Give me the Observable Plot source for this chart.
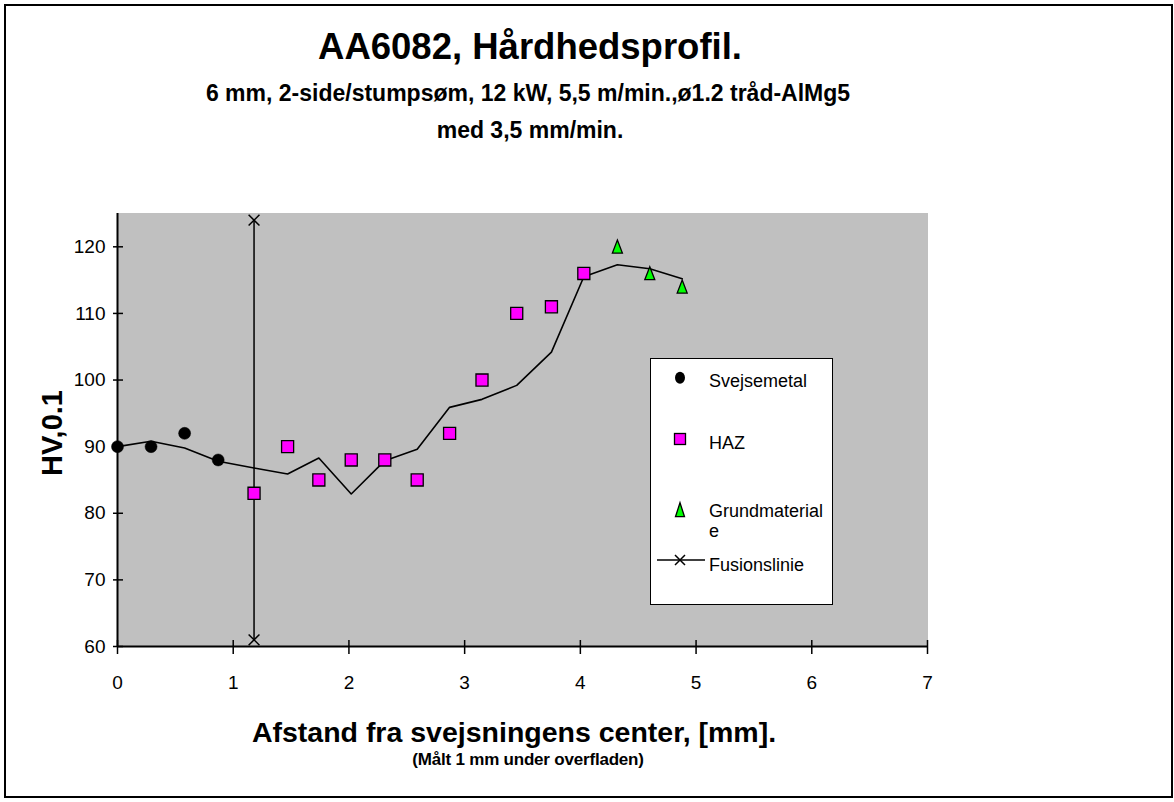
<!DOCTYPE html>
<html>
<head>
<meta charset="utf-8">
<script src="https://cdn.jsdelivr.net/npm/d3@7"></script>
<script src="https://cdn.jsdelivr.net/npm/@observablehq/plot@0.6"></script>
<style>
  body { margin: 0; background: #fff; font-family: "Liberation Sans", Arial, sans-serif; color: #000; }
  #wrap { position: relative; width: 1174px; height: 802px; overflow: hidden; }
  .t { position: absolute; white-space: nowrap; line-height: 1; color: #000; }
  .c { transform: translateX(-50%); font-weight: bold; }
  .lg { position: absolute; white-space: nowrap; line-height: 1; font-size: 18px; color: #000; }
</style>
</head>
<body>
<div id="wrap">
  <div id="chart" style="position:absolute;left:0;top:0;"></div>
  <div style="position:absolute;left:4px;top:4px;width:1169px;height:794px;box-sizing:border-box;border:2px solid #000;"></div>

  <div class="t c" style="left:530px;top:29px;font-size:36.5px;">AA6082, Hårdhedsprofil.</div>
  <div class="t c" style="left:528px;top:82px;font-size:23px;">6 mm, 2-side/stumpsøm, 12 kW, 5,5 m/min.,ø1.2 tråd-AlMg5</div>
  <div class="t c" style="left:530px;top:119px;font-size:23px;">med 3,5 mm/min.</div>
  <div class="t c" style="left:514px;top:718px;font-size:28.5px;">Afstand fra svejsningens center, [mm].</div>
  <div class="t c" style="left:528px;top:751px;font-size:17px;letter-spacing:-0.2px;">(Målt 1 mm under overfladen)</div>
  <div class="t" style="left:52px;top:433px;font-size:29px;font-weight:bold;transform:translate(-50%,-50%) rotate(-90deg);">HV,0.1</div>

  <div style="position:absolute;left:650px;top:358px;width:183px;height:247px;box-sizing:border-box;border:1.5px solid #000;background:#fff;"></div>
  <svg style="position:absolute;left:650px;top:358px;" width="183" height="247" viewBox="650 358 183 247">
    <ellipse cx="680" cy="377.7" rx="5" ry="6" fill="#000"/>
    <rect x="674.5" y="433.5" width="11" height="11" fill="#ff00ff" stroke="#000" stroke-width="1.3"/>
    <path d="M680,502.7 L684.5,516.7 L675.5,516.7 Z" fill="#00ff00" stroke="#000" stroke-width="1.3"/>
    <line x1="657" y1="560" x2="705" y2="560" stroke="#000" stroke-width="1.5"/>
    <path d="M675,555 L685,565 M685,555 L675,565" stroke="#000" stroke-width="1.5"/>
  </svg>
  <div class="lg" style="left:709px;top:371.5px;">Svejsemetal</div>
  <div class="lg" style="left:709px;top:434px;">HAZ</div>
  <div class="lg" style="left:709px;top:502px;">Grundmaterial</div>
  <div class="lg" style="left:709px;top:522px;">e</div>
  <div class="lg" style="left:709px;top:555.5px;">Fusionslinie</div>
</div>
<script>
// Data
const svejseX = [0, 0.29, 0.58, 0.87];
const svejseY = [90, 90, 92, 88];
const hazX = [1.18, 1.47, 1.74, 2.02, 2.31, 2.59, 2.87, 3.15, 3.45, 3.75, 4.03];
const hazY = [83, 90, 85, 88, 88, 85, 92, 100, 110, 111, 116];
const grundX = [4.32, 4.6, 4.88];
const grundY = [120, 116, 114];
const trendX = [0, 0.29, 0.58, 0.87, 1.18, 1.47, 1.74, 2.02, 2.31, 2.59, 2.87, 3.15, 3.45, 3.75, 4.03, 4.32, 4.6, 4.88];
const trendY = [90, 90.8, 89.8, 87.8, 86.8, 85.9, 88.3, 82.9, 87.9, 89.6, 95.9, 97.1, 99.2, 104.2, 115.5, 117.3, 116.7, 115.2];
const fusionX = [1.18, 1.18];
const fusionY = [61, 124];
const xTicks = [0, 1, 2, 3, 4, 5, 6, 7];
const yTicks = [60, 70, 80, 90, 100, 110, 120];

const rows = (xs, ys) => xs.map((x, i) => ({x, y: ys[i]}));
const tallTriangle = {
  draw(ctx, size) {
    const r = Math.sqrt(size / Math.PI);
    ctx.moveTo(0, -1.35 * r);
    ctx.lineTo(r, 1.25 * r);
    ctx.lineTo(-r, 1.25 * r);
    ctx.closePath();
  }
};

const chart = Plot.plot({
  width: 1174,
  height: 802,
  marginLeft: 117,
  marginRight: 247,
  marginTop: 213,
  marginBottom: 156,
  style: {background: "transparent", fontFamily: '"Liberation Sans", Arial, sans-serif', fontSize: "19px", color: "#000", overflow: "visible"},
  x: {domain: [0, 7]},
  y: {domain: [60, 125]},
  marks: [
    Plot.frame({fill: "#c0c0c0", stroke: "#c0c0c0"}),
    Plot.ruleX([0], {stroke: "#000", strokeWidth: 2}),
    Plot.ruleY([60], {stroke: "#000", strokeWidth: 2}),
    Plot.axisY({ticks: yTicks, tickSize: 10, dx: 6, tickFormat: () => "", label: null, strokeWidth: 1.5}),
    Plot.axisY({ticks: yTicks, tickSize: 0, tickPadding: 12, label: null, fontSize: 19, tickFormat: d => String(d)}),
    Plot.axisX({ticks: xTicks, tickSize: 14, dy: -6, tickFormat: () => "", label: null, strokeWidth: 1.5}),
    Plot.axisX({ticks: xTicks, tickSize: 0, tickPadding: 29, label: null, fontSize: 19, tickFormat: d => String(d)}),
    Plot.line(rows(fusionX, fusionY), {x: "x", y: "y", stroke: "#000", strokeWidth: 1.5}),
    Plot.dot(rows(fusionX, fusionY), {x: "x", y: "y", symbol: "times", r: 5, stroke: "#000", strokeWidth: 1.5}),
    Plot.line(rows(trendX, trendY), {x: "x", y: "y", stroke: "#000", strokeWidth: 1.6}),
    Plot.dot(rows(svejseX, svejseY), {x: "x", y: "y", symbol: "circle", r: 6, fill: "#000", stroke: "#000", strokeWidth: 0.5}),
    Plot.dot(rows(hazX, hazY), {x: "x", y: "y", symbol: "square", r: 6.8, fill: "#ff00ff", stroke: "#000", strokeWidth: 1.3}),
    Plot.dot(rows(grundX, grundY), {x: "x", y: "y", symbol: tallTriangle, r: 5, fill: "#00ff00", stroke: "#000", strokeWidth: 1.3})
  ]
});
document.getElementById("chart").appendChild(chart);
</script>
</body>
</html>
